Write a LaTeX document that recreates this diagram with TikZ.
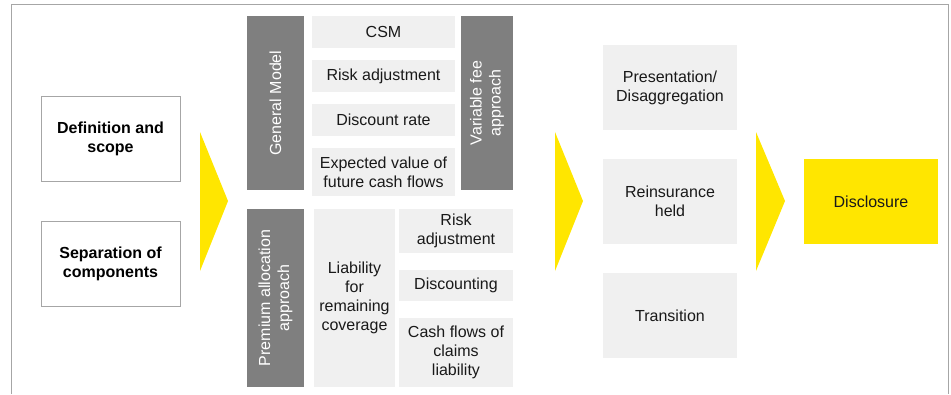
\documentclass[tikz,border=0pt]{standalone}
\usepackage{fontspec}
\setmainfont{Liberation Sans}
\usepackage{xcolor}
\usetikzlibrary{positioning}
\definecolor{eyyellow}{HTML}{FFE600}
\definecolor{boxgray}{HTML}{F0F0F0}
\definecolor{bargray}{HTML}{7F7F7F}
\definecolor{framegray}{HTML}{A6A6A6}
\tikzset{%
	scopebox/.style = {draw=framegray, fill=white, inner sep=0pt, minimum width=139pt, minimum height=85pt, align=center, font=\bfseries\fontsize{16}{19}\selectfont},
	itembox/.style  = {fill=boxgray, inner sep=0pt, align=center, text=black!90, font=\fontsize{16}{19}\selectfont},
	modelbar/.style = {fill=bargray, inner sep=0pt, rotate=90, align=center, text=white, font=\fontsize{16}{19}\selectfont},
	chevron/.style  = {fill=eyyellow},
	framing/.style  = {draw=framegray, line width=0.9pt},
}
\begin{document}
\begin{tikzpicture}[x=1pt,y=-1pt]
	\useasboundingbox (0,0) rectangle (951,394);
	\draw[framing] (11,394) |- (948,4) -- (948,394);
	
	\node[scopebox] (def) at (110.5,138.5) {Definition and\\scope};
	\node[scopebox] (sep) at (110.5,264) {Separation of\\components};
	
	\foreach \xa/\xb in {200/228,555/583,756/785} \fill[chevron] (\xa,132) -- (\xb,201) -- (\xa,271) -- cycle;
	
	\node[modelbar, minimum width=174pt, minimum height=57pt] (gm) at (275.5,103) {General Model};
	\node[itembox, minimum width=143pt, minimum height=32pt] (csm) at (383.5,32) {CSM};
	\node[itembox, minimum width=143pt, minimum height=32pt] (ra) at (383.5,76) {Risk adjustment};
	\node[itembox, minimum width=143pt, minimum height=32pt] (dr) at (383.5,120) {Discount rate};
	\node[itembox, minimum width=143pt, minimum height=48pt] (ev) at (383.5,172) {Expected value of\\future cash flows};
	\node[modelbar, minimum width=174pt, minimum height=52pt] (vfa) at (487,103) {Variable fee\\approach};
	
	\node[modelbar, minimum width=178pt, minimum height=57pt] (paa) at (275.5,298) {Premium allocation\\approach};
	\node[itembox, minimum width=81pt, minimum height=178pt] (lrc) at (354.5,298) {Liability\\for\\remaining\\coverage};
	\node[itembox, minimum width=114pt, minimum height=44pt] (rap) at (456,231) {Risk\\adjustment};
	\node[itembox, minimum width=114pt, minimum height=31pt] (dsc) at (456,285.5) {Discounting};
	\node[itembox, minimum width=114pt, minimum height=69pt] (cfc) at (456,352.5) {Cash flows of\\claims\\liability};
	
	\node[itembox, minimum width=134pt, minimum height=85pt] (pres) at (670,87.5) {Presentation/\\Disaggregation};
	\node[itembox, minimum width=134pt, minimum height=85pt] (reins) at (670,201.5) {Reinsurance\\held};
	\node[itembox, minimum width=134pt, minimum height=85pt] (trans) at (670,315.5) {Transition};
	\node[itembox, fill=eyyellow, minimum width=134pt, minimum height=85pt] (discl) at (871,201.5) {Disclosure};
\end{tikzpicture}
\end{document}
